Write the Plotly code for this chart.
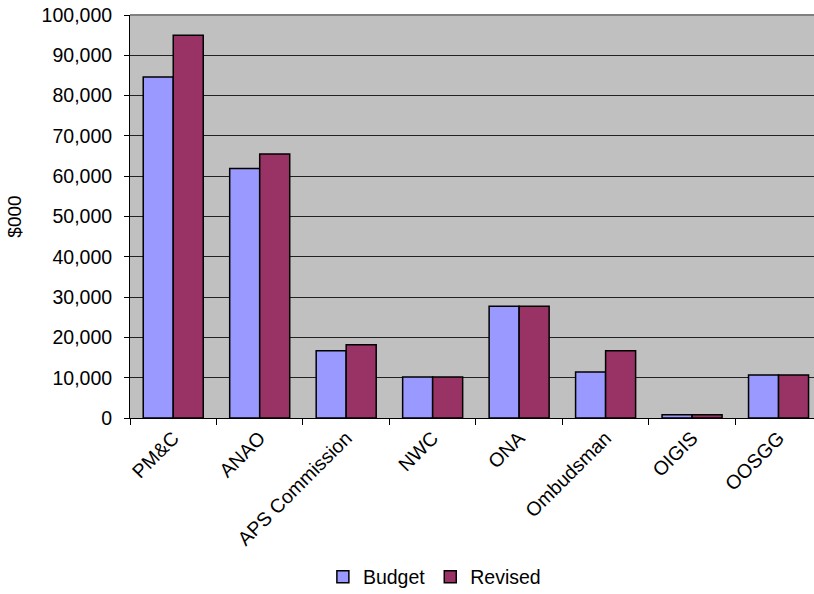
import plotly.graph_objects as go

categories = ["PM&C", "ANAO", "APS Commission", "NWC", "ONA", "Ombudsman", "OIGIS", "OOSGG"]
budget = [84600, 61900, 16700, 10200, 27700, 11400, 800, 10700]
revised = [95000, 65500, 18200, 10200, 27700, 16700, 800, 10700]
y_ticks = [0, 10000, 20000, 30000, 40000, 50000, 60000, 70000, 80000, 90000, 100000]

FONT = "Liberation Sans, Arial, sans-serif"

fig = go.Figure()
fig.add_trace(go.Bar(name="Budget", x=categories, y=budget,
                     marker=dict(color="#9999FF", line=dict(color="black", width=1.5))))
fig.add_trace(go.Bar(name="Revised", x=categories, y=revised,
                     marker=dict(color="#993366", line=dict(color="black", width=1.5))))

fig.update_layout(
    width=814, height=594,
    margin=dict(l=130, r=0, t=15, b=176, autoexpand=False),
    paper_bgcolor="white", plot_bgcolor="#C0C0C0",
    barmode="group", bargap=0.306, bargroupgap=0,
    font=dict(family=FONT, size=19, color="black"),
    showlegend=True,
    legend=dict(orientation="h", x=0.445, xanchor="center", y=-0.395, yanchor="middle",
                font=dict(size=19.5), itemwidth=30, tracegroupgap=0,
                bgcolor="rgba(0,0,0,0)"),
    xaxis=dict(range=[-0.5, 7.41], showline=True, linecolor="black", linewidth=1,
               ticks="outside", ticklen=6, tickcolor="black", tickson="boundaries",
               tickangle=-45, tickfont=dict(size=19.5), showgrid=False, automargin=False),
    yaxis=dict(range=[0, 100000], tickvals=y_ticks, tickformat=",",
               showline=True, linecolor="black", linewidth=1,
               ticks="outside", ticklen=5, tickcolor="black", ticklabelstandoff=8,
               showgrid=True, gridcolor="#222222", gridwidth=1, zeroline=False,
               title=dict(text="$000", font=dict(size=19), standoff=14),
               tickfont=dict(size=19.5), automargin=False),
    shapes=[dict(type="line", xref="paper", yref="paper", x0=0, x1=1, y0=1, y1=1,
                 line=dict(color="#808080", width=2))],
)

fig.write_html("out.html", config={"displayModeBar": False},
               post_script="document.body.style.margin='0';document.body.style.overflow='hidden';")
